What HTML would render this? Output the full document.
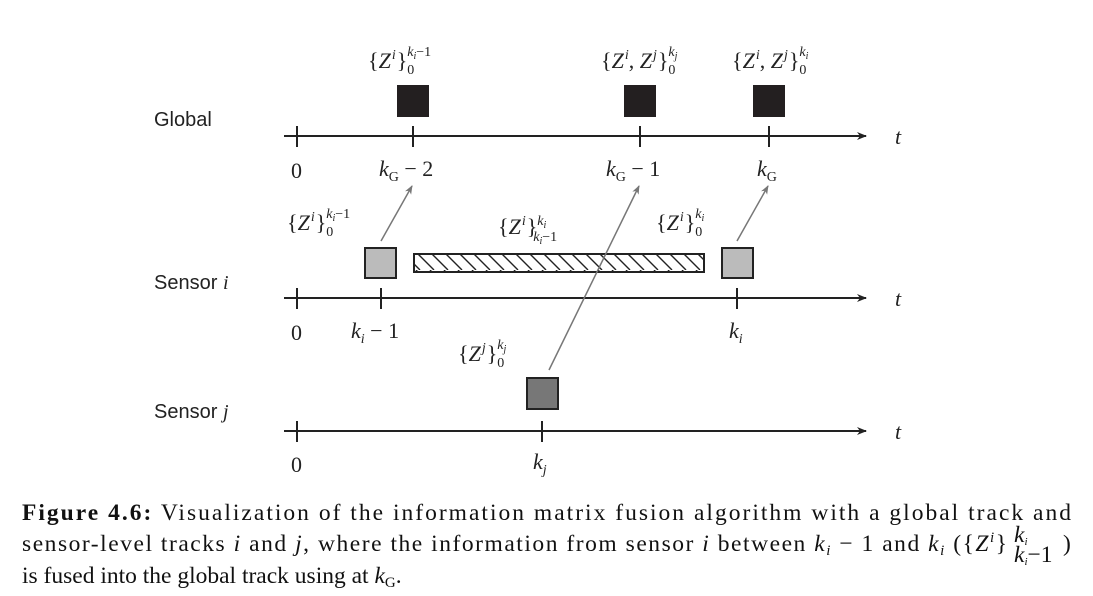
<!DOCTYPE html>
<html><head><meta charset="utf-8"><style>
html,body{margin:0;padding:0;background:#fff;width:1093px;height:596px;overflow:hidden}
svg{display:block}
.m{font-family:"Liberation Serif",serif;font-size:22px;fill:#222}
.s{font-family:"Liberation Sans",sans-serif;font-size:20px;fill:#222}
.cap{font-family:"Liberation Serif",serif;font-size:23.5px;fill:#111}
</style></head><body>
<svg width="1093" height="596" viewBox="0 0 1093 596">
<defs>
<pattern id="hatch" patternUnits="userSpaceOnUse" width="14" height="18">
<path d="M-4,0 L14,18 M10,0 L28,18 M-18,0 L0,18" stroke="#222" stroke-width="1.4"/>
</pattern>
<marker id="ah" markerWidth="10" markerHeight="8" refX="9" refY="4" orient="auto" markerUnits="userSpaceOnUse"><path d="M0,0 L10,4 L0,8 L3,4 Z" fill="#222"/></marker>
<marker id="ag" markerWidth="9" markerHeight="7" refX="8" refY="3.5" orient="auto" markerUnits="userSpaceOnUse"><path d="M0,0 L9,3.5 L0,7 L2.5,3.5 Z" fill="#777"/></marker>
</defs>

<!-- Global -->
<text class="s" x="154" y="126">Global</text>
<line x1="284" y1="136" x2="866" y2="136" stroke="#222" stroke-width="2" marker-end="url(#ah)"/>
<g stroke="#222" stroke-width="2">
<line x1="297" y1="126" x2="297" y2="147"/><line x1="413" y1="126" x2="413" y2="147"/><line x1="640" y1="126" x2="640" y2="147"/><line x1="769" y1="126" x2="769" y2="147"/></g>
<text class="m" x="895" y="144" font-style="italic">t</text>
<text class="m" x="291" y="178">0</text>
<text class="m" x="379" y="176"><tspan font-style="italic">k</tspan><tspan font-size="14" dy="5">G</tspan><tspan dy="-5"> − 2</tspan></text>
<text class="m" x="606" y="176"><tspan font-style="italic">k</tspan><tspan font-size="14" dy="5">G</tspan><tspan dy="-5"> − 1</tspan></text>
<text class="m" x="757" y="176"><tspan font-style="italic">k</tspan><tspan font-size="14" dy="5">G</tspan></text>
<rect x="397" y="85" width="32" height="32" fill="#231f20"/>
<rect x="624" y="85" width="32" height="32" fill="#231f20"/>
<rect x="753" y="85" width="32" height="32" fill="#231f20"/>
<text class="m" x="368" y="68">{<tspan font-style="italic">Z</tspan><tspan font-size="14" dy="-9" dx="1" font-style="italic">i</tspan><tspan dy="9" dx="1">}</tspan><tspan font-size="14" dy="6">0</tspan><tspan font-size="14" dx="-7" dy="-18" font-style="italic">k</tspan><tspan font-size="10" dy="3" font-style="italic">i</tspan><tspan font-size="14" dy="-3">−1</tspan></text>
<text class="m" x="601" y="68">{<tspan font-style="italic">Z</tspan><tspan font-size="14" dy="-9" dx="1" font-style="italic">i</tspan><tspan dy="9">, </tspan><tspan font-style="italic">Z</tspan><tspan font-size="14" dy="-9" dx="1" font-style="italic">j</tspan><tspan dy="9" dx="1">}</tspan><tspan font-size="14" dy="6">0</tspan><tspan font-size="14" dx="-7" dy="-18" font-style="italic">k</tspan><tspan font-size="10" dy="3" font-style="italic">j</tspan></text>
<text class="m" x="732" y="68">{<tspan font-style="italic">Z</tspan><tspan font-size="14" dy="-9" dx="1" font-style="italic">i</tspan><tspan dy="9">, </tspan><tspan font-style="italic">Z</tspan><tspan font-size="14" dy="-9" dx="1" font-style="italic">j</tspan><tspan dy="9" dx="1">}</tspan><tspan font-size="14" dy="6">0</tspan><tspan font-size="14" dx="-7" dy="-18" font-style="italic">k</tspan><tspan font-size="10" dy="3" font-style="italic">i</tspan></text>

<!-- Sensor i -->
<text class="s" x="154" y="289">Sensor <tspan font-family="Liberation Serif" font-style="italic">i</tspan></text>
<line x1="284" y1="298" x2="866" y2="298" stroke="#222" stroke-width="2" marker-end="url(#ah)"/>
<g stroke="#222" stroke-width="2">
<line x1="297" y1="288" x2="297" y2="309"/><line x1="381" y1="288" x2="381" y2="309"/><line x1="737" y1="288" x2="737" y2="309"/></g>
<text class="m" x="895" y="306" font-style="italic">t</text>
<text class="m" x="291" y="340">0</text>
<text class="m" x="351" y="338"><tspan font-style="italic">k</tspan><tspan font-size="14" dy="5" font-style="italic">i</tspan><tspan dy="-5"> − 1</tspan></text>
<text class="m" x="729" y="338"><tspan font-style="italic">k</tspan><tspan font-size="14" dy="5" font-style="italic">i</tspan></text>
<rect x="365" y="248" width="31" height="30" fill="#bbb" stroke="#222" stroke-width="2"/>
<rect x="722" y="248" width="31" height="30" fill="#bbb" stroke="#222" stroke-width="2"/>
<rect x="414" y="254" width="290" height="18" fill="url(#hatch)" stroke="#222" stroke-width="2"/>
<text class="m" x="287" y="230">{<tspan font-style="italic">Z</tspan><tspan font-size="14" dy="-9" dx="1" font-style="italic">i</tspan><tspan dy="9" dx="1">}</tspan><tspan font-size="14" dy="6">0</tspan><tspan font-size="14" dx="-7" dy="-18" font-style="italic">k</tspan><tspan font-size="10" dy="3" font-style="italic">i</tspan><tspan font-size="14" dy="-3">−1</tspan></text>
<text class="m" x="498" y="234">{<tspan font-style="italic">Z</tspan><tspan font-size="14" dy="-9" dx="1" font-style="italic">i</tspan><tspan dy="9" dx="1">}</tspan><tspan font-size="14" dy="-9" font-style="italic">k</tspan><tspan font-size="10" dy="3" font-style="italic">i</tspan><tspan font-size="14" dx="-13" dy="13" font-style="italic">k</tspan><tspan font-size="10" dy="3" font-style="italic">i</tspan><tspan font-size="14" dy="-3">−1</tspan></text>
<text class="m" x="656" y="230">{<tspan font-style="italic">Z</tspan><tspan font-size="14" dy="-9" dx="1" font-style="italic">i</tspan><tspan dy="9" dx="1">}</tspan><tspan font-size="14" dy="6">0</tspan><tspan font-size="14" dx="-7" dy="-18" font-style="italic">k</tspan><tspan font-size="10" dy="3" font-style="italic">i</tspan></text>

<!-- Sensor j -->
<text class="s" x="154" y="418">Sensor <tspan font-family="Liberation Serif" font-style="italic">j</tspan></text>
<line x1="284" y1="431" x2="866" y2="431" stroke="#222" stroke-width="2" marker-end="url(#ah)"/>
<g stroke="#222" stroke-width="2">
<line x1="297" y1="421" x2="297" y2="442"/><line x1="542" y1="421" x2="542" y2="442"/></g>
<text class="m" x="895" y="439" font-style="italic">t</text>
<text class="m" x="291" y="472">0</text>
<text class="m" x="533" y="469"><tspan font-style="italic">k</tspan><tspan font-size="14" dy="5" font-style="italic">j</tspan></text>
<rect x="527" y="378" width="31" height="31" fill="#777" stroke="#222" stroke-width="2"/>
<text class="m" x="458" y="361">{<tspan font-style="italic">Z</tspan><tspan font-size="14" dy="-9" dx="1" font-style="italic">j</tspan><tspan dy="9" dx="1">}</tspan><tspan font-size="14" dy="6">0</tspan><tspan font-size="14" dx="-7" dy="-18" font-style="italic">k</tspan><tspan font-size="10" dy="3" font-style="italic">j</tspan></text>

<!-- arrows -->
<g stroke="#777" stroke-width="1.5" fill="none">
<line x1="381" y1="241" x2="412" y2="186" marker-end="url(#ag)"/>
<line x1="549" y1="370" x2="639" y2="186" marker-end="url(#ag)"/>
<line x1="737" y1="241" x2="768" y2="186" marker-end="url(#ag)"/>
</g>

<!-- caption -->
<g>
<text class="cap" x="22" y="520" textLength="1049" lengthAdjust="spacing"><tspan font-weight="bold">Figure 4.6:</tspan> Visualization of the information matrix fusion algorithm with a global track and</text>
<text class="cap" x="22" y="551" textLength="985" lengthAdjust="spacing">sensor-level tracks <tspan font-style="italic">i</tspan> and <tspan font-style="italic">j</tspan>, where the information from sensor <tspan font-style="italic">i</tspan> between <tspan font-style="italic">k</tspan><tspan font-size="15" dy="4" font-style="italic">i</tspan><tspan dy="-4"> − 1 and </tspan><tspan font-style="italic">k</tspan><tspan font-size="15" dy="4" font-style="italic">i</tspan><tspan dy="-4"> ({</tspan><tspan font-style="italic">Z</tspan><tspan font-size="15" dy="-9" font-style="italic">i</tspan><tspan dy="9">}</tspan></text>
<text class="cap" font-size="15" x="1014" y="542" font-style="italic">k<tspan font-size="11" dy="3">i</tspan></text>
<text class="cap" font-size="15" x="1014" y="562"><tspan font-style="italic">k</tspan><tspan font-size="11" dy="3" font-style="italic">i</tspan><tspan dy="-3">−1</tspan></text>
<text class="cap" x="1063" y="551">)</text>
<text class="cap" x="22" y="583">is fused into the global track using at <tspan font-style="italic">k</tspan><tspan font-size="15" dy="4">G</tspan><tspan dy="-4">.</tspan></text>
</g>
</svg>
</body></html>
